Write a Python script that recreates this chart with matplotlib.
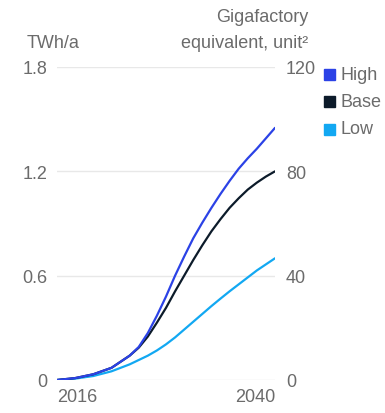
import matplotlib.pyplot as plt
from matplotlib.patches import Rectangle

plt.rcParams['font.family'] = ['Liberation Sans', 'DejaVu Sans']

years = [2016, 2018, 2020, 2022, 2024, 2025, 2026, 2027, 2028, 2029, 2030,
         2031, 2032, 2033, 2034, 2035, 2036, 2037, 2038, 2039, 2040]
high = [0, 0.011, 0.033, 0.07, 0.14, 0.19, 0.27, 0.37, 0.48, 0.60, 0.71,
        0.815, 0.905, 0.99, 1.07, 1.145, 1.215, 1.275, 1.33, 1.39, 1.45]
base = [0, 0.011, 0.033, 0.07, 0.14, 0.186, 0.25, 0.33, 0.415, 0.51, 0.60,
        0.69, 0.775, 0.855, 0.925, 0.99, 1.045, 1.095, 1.135, 1.17, 1.20]
low = [0, 0.008, 0.023, 0.05, 0.09, 0.115, 0.14, 0.17, 0.205, 0.245, 0.29,
       0.335, 0.38, 0.425, 0.468, 0.51, 0.55, 0.59, 0.63, 0.665, 0.70]

series_names = ['High', 'Base', 'Low']
colors = ['#2b42e6', '#0c1b2a', '#12a8f2']

left_ticks = [0, 0.6, 1.2, 1.8]
left_labels = ['0', '0.6', '1.2', '1.8']
right_ticks = [0, 40, 80, 120]
x_labels = ['2016', '2040']

text_color = '#6b6b6b'
fs = 13

fig = plt.figure(figsize=(3.85, 4.14), dpi=100)
ax = fig.add_axes([57 / 385, 1 - 381 / 414, 218 / 385, 313 / 414])

for y in left_ticks:
    ax.axhline(y, color='#e8e8e8', lw=1.0, zorder=0)

for vals, c in zip([low, base, high], [colors[2], colors[1], colors[0]]):
    ax.plot(years, vals, color=c, lw=1.6, solid_capstyle='round',
            solid_joinstyle='round')

ax.set_xlim(2016, 2040)
ax.set_ylim(0, 1.8)
for s in ax.spines.values():
    s.set_visible(False)
ax.set_yticks(left_ticks)
ax.set_yticklabels(left_labels)
ax.tick_params(axis='y', length=0, pad=7, labelsize=fs, labelcolor=text_color)
ax.set_xticks([])

ax2 = ax.twinx()
ax2.set_ylim(0, 120)
for s in ax2.spines.values():
    s.set_visible(False)
ax2.set_yticks(right_ticks)
ax2.tick_params(axis='y', length=0, pad=8, labelsize=fs, labelcolor=text_color)

# x-axis end labels
ax.text(0, -0.025, x_labels[0], transform=ax.transAxes, ha='left', va='top',
        fontsize=fs, color=text_color)
ax.text(1, -0.025, x_labels[1], transform=ax.transAxes, ha='right', va='top',
        fontsize=fs, color=text_color)

# axis titles
fig.text(27 / 385, 1 - 44 / 414, 'TWh/a', ha='left', va='center',
         fontsize=fs, color=text_color)
fig.text(308 / 385, 1 - 44 / 414, 'equivalent, unit\u00b2',
         ha='right', va='center', fontsize=fs, color=text_color)
fig.text(308 / 385, 1 - 18 / 414, 'Gigafactory',
         ha='right', va='center', fontsize=fs, color=text_color)

# legend
for i, (name, c) in enumerate(zip(series_names, colors)):
    yc = 1 - (75 + 27.5 * i) / 414
    fig.patches.append(Rectangle((324 / 385, yc - 5.5 / 414), 11 / 385, 11 / 414,
                                 transform=fig.transFigure, color=c))
    fig.text(340 / 385, yc, name, ha='left', va='center', fontsize=fs,
             color=text_color)

fig.savefig('out.png', dpi=100)
